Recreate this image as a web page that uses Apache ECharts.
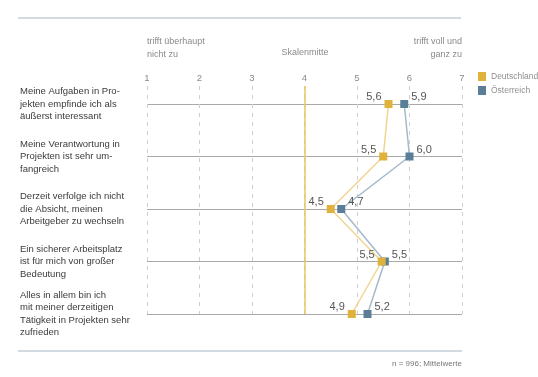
<!DOCTYPE html>
<html><head><meta charset="utf-8">
<script src="https://cdn.jsdelivr.net/npm/echarts@6/dist/echarts.min.js"></script>
<style>html,body{margin:0;padding:0;background:#fff}#c{width:538px;height:377px}</style>
</head><body><div id="c"></div>
<script>
const categories = [
  'Meine Aufgaben in Pro-\njekten empfinde ich als\näußerst interessant',
  'Meine Verantwortung in\nProjekten ist sehr um-\nfangreich',
  'Derzeit verfolge ich nicht\ndie Absicht, meinen\nArbeitgeber zu wechseln',
  'Ein sicherer Arbeitsplatz\nist für mich von großer\nBedeutung',
  'Alles in allem bin ich\nmit meiner derzeitigen\nTätigkeit in Projekten sehr\nzufrieden'
];
const deutschland = [5.6, 5.5, 4.5, 5.47, 4.9];
const oesterreich = [5.9, 6.0, 4.7, 5.53, 5.2];
const seriesNames = ['Deutschland', 'Österreich'];
const scaleMid = 4;
const headerLeft = 'trifft überhaupt\nnicht zu';
const headerMid = 'Skalenmitte';
const headerRight = 'trifft voll und\nganz zu';
const footer = 'n = 996; Mittelwerte';

const fmt = p => p.value[0].toFixed(1).replace('.', ',');
const font = 'Liberation Sans, Arial, sans-serif';

const chart = echarts.init(document.getElementById('c'));
chart.setOption({
  animation: false,
  textStyle: { fontFamily: font },
  grid: [
    { left: 147, right: 76, top: 104, bottom: 63 },
    { left: 147, right: 76, top: 86, bottom: 63 }
  ],
  xAxis: [
    { type: 'value', gridIndex: 0, min: 1, max: 7, interval: 1,
      axisLabel: { show: false }, axisLine: { show: false }, axisTick: { show: false }, splitLine: { show: false } },
    { type: 'value', gridIndex: 1, min: 1, max: 7, interval: 1, position: 'top',
      axisLabel: { color: '#8a8a8a', fontSize: 9.5, margin: 3 },
      axisLine: { show: false }, axisTick: { show: false },
      splitLine: { show: true, lineStyle: { color: '#cfcfcf', type: [4, 5], width: 1 } } }
  ],
  yAxis: [
    { type: 'category', gridIndex: 0, data: categories, inverse: true, boundaryGap: false,
      axisLine: { show: false }, axisTick: { show: false },
      splitLine: { show: true, lineStyle: { color: '#a9a9a9', width: 1 } },
      axisLabel: { align: 'left', margin: 127, fontSize: 9.5, lineHeight: 12.5, color: '#3a3a3a' } },
    { type: 'value', gridIndex: 1, min: 0, max: 1, show: false }
  ],
  legend: {
    data: seriesNames, orient: 'vertical', left: 478, top: 72, padding: 0,
    icon: 'rect', itemWidth: 8, itemHeight: 9, itemGap: 5,
    textStyle: { fontSize: 8.5, color: '#909090' }
  },
  series: [
    { name: seriesNames[1], type: 'line', xAxisIndex: 0, yAxisIndex: 0, z: 3,
      data: oesterreich.map((v, i) => [v, i]),
      symbol: 'rect', symbolSize: 8,
      itemStyle: { color: '#5b7e98' },
      lineStyle: { color: '#a5b9c9', width: 1.5 },
      label: { show: true, position: 'right', distance: 3, offset: [0, -7], formatter: fmt, fontSize: 11, color: '#555' } },
    { name: seriesNames[0], type: 'line', xAxisIndex: 0, yAxisIndex: 0, z: 4,
      data: deutschland.map((v, i) => [v, i]),
      symbol: 'rect', symbolSize: 8,
      itemStyle: { color: '#dfb23c' },
      lineStyle: { color: '#f0d592', width: 1.5 },
      label: { show: true, position: 'left', distance: 3, offset: [0, -7], formatter: fmt, fontSize: 11, color: '#555' } },
    { type: 'line', xAxisIndex: 1, yAxisIndex: 1, data: [], silent: true,
      markLine: { symbol: 'none', silent: true, label: { show: false },
        lineStyle: { color: '#ebc65e', type: 'solid', width: 1.5 },
        data: [{ xAxis: scaleMid }] } }
  ],
  graphic: [
    { type: 'line', shape: { x1: 18, y1: 18, x2: 461, y2: 18 }, style: { stroke: '#c3ced8', lineWidth: 1.5 } },
    { type: 'line', shape: { x1: 18, y1: 351, x2: 462, y2: 351 }, style: { stroke: '#c3ced8', lineWidth: 1.5 } },
    { type: 'text', left: 147, top: 35.5, style: { text: headerLeft, font: '9px ' + font, fill: '#8a8a8a', lineHeight: 12.5 } },
    { type: 'text', x: 305, y: 48, style: { text: headerMid, font: '9px ' + font, fill: '#8a8a8a', align: 'center' } },
    { type: 'text', x: 462, y: 35.5, style: { text: headerRight, font: '9px ' + font, fill: '#8a8a8a', align: 'right', lineHeight: 12.5 } },
    { type: 'text', x: 462, y: 360, style: { text: footer, font: '8px ' + font, fill: '#777', align: 'right' } }
  ]
});
</script>
</body></html>
